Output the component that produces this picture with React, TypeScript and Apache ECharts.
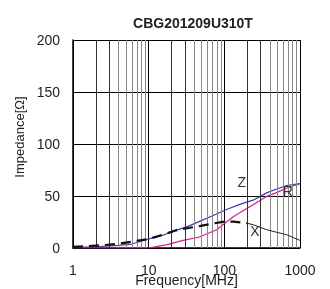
import React, { useEffect, useRef } from "react";
import * as echarts from "echarts";

const title = "CBG201209U310T";
const xTickLabels = [1, 10, 100, 1000];
const yTicks = [0, 50, 100, 150, 200];
const minorGridFreqs = [2, 3, 4, 5, 6, 7, 8, 9, 20, 30, 40, 50, 60, 70, 80, 90, 200, 300, 400, 500, 600, 700, 800, 900];

const zFreq = [1, 2, 4, 6, 10, 15, 23, 35, 47, 70, 107, 160, 240, 362, 500, 665, 1000];
const zVal = [0.5, 1.2, 2.5, 3.8, 8.7, 12, 17, 21.5, 25.6, 31, 37, 42, 46, 53, 57, 60, 62];

const rFreq = [1, 10, 12, 17, 28.5, 47, 79, 131, 240, 362, 500, 665, 1000];
const rVal = [0, 0, 1, 3, 7.3, 10.6, 17.6, 30, 41.6, 49.6, 53.5, 57.7, 61.8];

const xFreqA = [1, 2.26, 4, 6.2, 10, 15, 23, 35, 47, 70, 100, 131, 170, 200];
const xValA = [1, 2.5, 4, 6.3, 8.7, 12.5, 17, 19.5, 21, 23.5, 25.3, 25.3, 24.5, 23.8];
const xFreqB = [200, 240, 362, 500, 665, 1000];
const xValB = [23.8, 22.4, 17.6, 15, 12.8, 7.3];

const curveLabels = [
  { text: "Z", f: 170, v: 63 },
  { text: "R", f: 690, v: 55 },
  { text: "X", f: 253, v: 16 },
];

const pair = (f: number[], v: number[]) => f.map((x, i) => [x, v[i]]);

export default function App() {
  const ref = useRef<HTMLDivElement>(null);
  useEffect(() => {
    if (!ref.current) return;
    const chart = echarts.init(ref.current, undefined, { renderer: "svg" });
    const font = "'Liberation Sans', Arial, sans-serif";
    chart.setOption({
      animation: false,
      title: {
        text: title,
        left: 188,
        textAlign: "center",
        top: 11,
        textStyle: { fontFamily: font, fontSize: 14, fontWeight: "bold", color: "#222" },
      },
      grid: { left: 73, width: 227, top: 40, height: 208, containLabel: false, outerBoundsMode: "none" },
      xAxis: {
        type: "log",
        logBase: 10,
        min: 1,
        max: 1000,
        name: "Frequency[MHz]",
        nameLocation: "middle",
        nameGap: 25,
        nameMoveOverlap: false,
        nameTextStyle: { fontFamily: font, fontSize: 14, color: "#222" },
        axisLine: { show: true, lineStyle: { color: "#000", width: 1.5 } },
        axisTick: { show: false },
        splitLine: { show: true, lineStyle: { color: "#000", width: 1 } },
        axisLabel: {
          fontFamily: font,
          fontSize: 14,
          color: "#222",
          margin: 15,
          formatter: (v: number) => (xTickLabels.includes(Math.round(v)) ? String(Math.round(v)) : ""),
        },
      },
      yAxis: {
        type: "value",
        min: yTicks[0],
        max: yTicks[yTicks.length - 1],
        interval: 50,
        name: "Impedance[Ω]",
        nameLocation: "middle",
        nameGap: 47,
        nameMoveOverlap: false,
        nameRotate: 90,
        nameTextStyle: { fontFamily: font, fontSize: 13, color: "#222", padding: [0, 0, 0, 14] },
        axisLine: { show: true, lineStyle: { color: "#000", width: 1.5 } },
        axisTick: { show: true, inside: true, length: 4, lineStyle: { color: "#000" } },
        splitLine: { show: true, lineStyle: { color: "#000", width: 1 } },
        axisLabel: { fontFamily: font, fontSize: 14, color: "#222", margin: 13 },
      },
      series: [
        {
          type: "line",
          name: "grid",
          data: [],
          silent: true,
          markLine: {
            silent: true,
            symbol: "none",
            label: { show: false },
            animation: false,
            data: minorGridFreqs.map((f) => {
              const d = Math.round(f / Math.pow(10, Math.floor(Math.log10(f) + 1e-9)));
              return {
                xAxis: f,
                lineStyle: { color: d <= 3 ? "#333" : "#888", width: 1, type: "solid" },
              };
            }),
          },
        },
        {
          type: "line",
          name: "R",
          data: pair(rFreq, rVal),
          showSymbol: false,
          lineStyle: { color: "#d81b8c", width: 1.2 },
          z: 3,
        },
        {
          type: "line",
          name: "Z",
          data: pair(zFreq, zVal),
          showSymbol: false,
          lineStyle: { color: "#3a3aa8", width: 1.2 },
          z: 4,
        },
        {
          type: "line",
          name: "X1",
          data: pair(xFreqA, xValA),
          showSymbol: false,
          lineStyle: { color: "#111", width: 2.2, type: [10, 6] },
          z: 5,
        },
        {
          type: "line",
          name: "X2",
          data: pair(xFreqB, xValB),
          showSymbol: false,
          lineStyle: { color: "#222", width: 1 },
          z: 5,
          markPoint: {
            symbol: "circle",
            symbolSize: 0,
            silent: true,
            label: {
              show: true,
              position: "inside",
              fontFamily: font,
              fontSize: 14,
              color: "#333",
              formatter: (p: any) => p.name,
            },
            data: curveLabels.map((c) => ({ name: c.text, coord: [c.f, c.v] })),
          },
        },
      ],
    });
    return () => chart.dispose();
  }, []);
  return (
    <div
      ref={ref}
      style={{ position: "fixed", left: 0, top: 0, width: 330, height: 289 }}
    />
  );
}
